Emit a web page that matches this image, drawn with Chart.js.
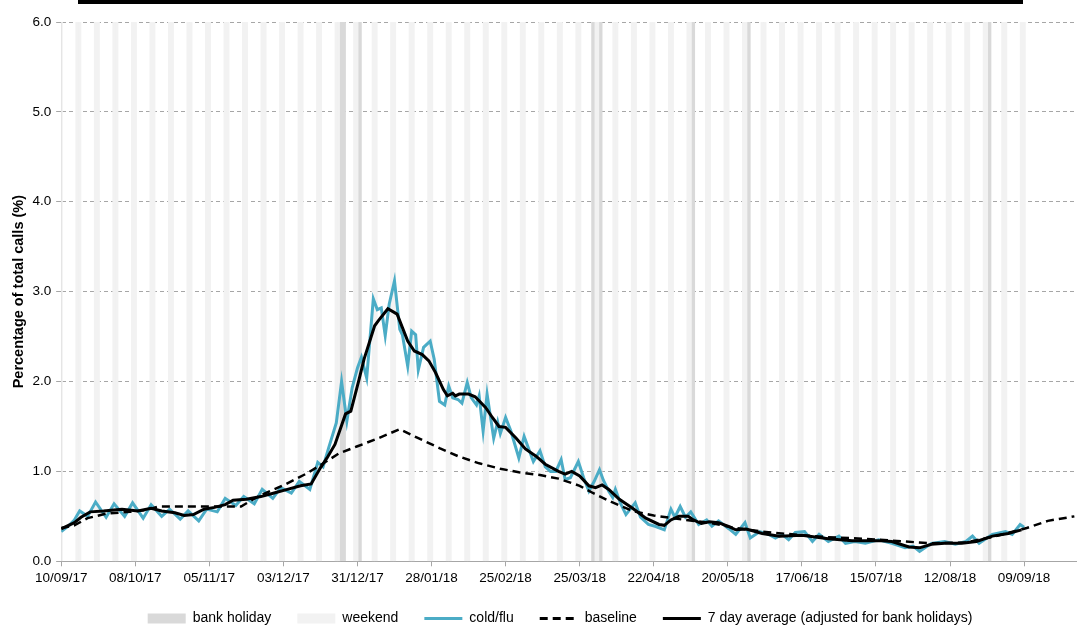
<!DOCTYPE html>
<html>
<head>
<meta charset="utf-8">
<script src="https://cdn.jsdelivr.net/npm/chart.js@4.4.1/dist/chart.umd.min.js"></script>
<style>
  html, body { margin: 0; padding: 0; background: #fff; }
</style>
</head>
<body>
<canvas id="callsChart" width="1077" height="626"></canvas>
<script>
// x values are days counted from 10/09/17
const tickLabels = ['10/09/17', '08/10/17', '05/11/17', '03/12/17', '31/12/17', '28/01/18', '25/02/18',
    '25/03/18', '22/04/18', '20/05/18', '17/06/18', '15/07/18', '12/08/18', '09/09/18'];
const bankHolidays = ['25/12/17', '26/12/17', '01/01/18', '30/03/18', '02/04/18', '07/05/18', '28/05/18', '27/08/18'];
const lastDay = '09/09/18';

const fluDays = [0, 3, 5, 7, 10, 13, 17, 20, 24, 27, 31, 34, 38, 41, 45, 48, 52, 55, 59, 62, 66, 69, 73, 76, 80, 83, 87, 90, 94,
    97, 99, 101, 104, 106, 108, 110, 112, 113.5, 115.5, 118, 119.5, 121, 122.5, 124, 126, 128, 129, 131, 132.5, 134, 135,
    137, 139.5, 141, 143, 145, 146.5, 148, 150, 151.5, 153.5, 155, 157, 158, 159.5, 161, 163.5, 165, 166, 168, 170, 173,
    175, 178.5, 181, 183, 185, 187, 189, 190.5, 192.5, 195.5, 197.5, 199.5, 201.5, 203.5, 205, 207, 208.5, 209.5, 211.5,
    213.5, 217, 219, 222, 224.5, 228, 230.5, 232, 234, 236, 238, 241, 244, 246, 248.5, 252.5, 255, 258.5, 260.5, 264,
    267.5, 270, 272.5, 275, 277.5, 281, 284, 286.5, 290, 294, 296.5, 300, 304, 309, 314, 319, 322, 324.5, 329, 334, 338,
    342, 344.5, 347, 352, 357, 359.5, 362.5, 364];
const fluPct = [0.33, 0.40, 0.46, 0.56, 0.50, 0.66, 0.49, 0.64, 0.50, 0.65, 0.48, 0.63, 0.50, 0.58, 0.47, 0.56, 0.45, 0.58,
    0.55, 0.70, 0.62, 0.72, 0.64, 0.80, 0.70, 0.82, 0.76, 0.89, 0.80,
    1.10, 1.05, 1.25, 1.54, 2.00, 1.56, 1.93, 2.15, 2.27, 2.04, 2.92, 2.80, 2.82, 2.51, 2.86, 3.12, 2.58, 2.52, 2.17, 2.56,
    2.52, 2.13, 2.38, 2.45, 2.25, 1.78, 1.74, 1.95, 1.82, 1.80, 1.76, 1.99, 1.82, 1.74, 1.84, 1.45, 1.86, 1.37, 1.55, 1.42,
    1.60, 1.45, 1.15, 1.39, 1.11, 1.23, 1.05, 1.00, 1.00, 1.13, 0.91, 0.93, 1.11, 0.93, 0.78, 0.89, 1.02, 0.90, 0.78, 0.71,
    0.80, 0.64, 0.52, 0.65, 0.49, 0.41, 0.39, 0.35, 0.58, 0.49, 0.61, 0.49, 0.55, 0.41, 0.46, 0.39, 0.45, 0.36, 0.30, 0.43,
    0.26, 0.33, 0.30, 0.26, 0.30, 0.24, 0.32, 0.33, 0.22, 0.30, 0.22, 0.28, 0.20, 0.22, 0.20, 0.24, 0.20, 0.15, 0.17, 0.11,
    0.20, 0.22, 0.19, 0.22, 0.28, 0.20, 0.30, 0.33, 0.30, 0.41, 0.38];

const avgDays = [0, 5, 7.5, 11, 16, 23, 29, 34, 38, 43, 46.5, 50, 54, 58, 62, 65, 70, 75.5, 80.5, 85.5, 90.5, 94.5, 98,
    100.5, 103.5, 107.5, 109.5, 112.5, 114.5, 118.5, 120, 123.5, 127, 129, 131, 133.5, 136.5, 139, 141.5, 144.5, 146, 148,
    149, 150.5, 154, 156.5, 160.5, 163, 165.5, 168, 172, 175.5, 179.5, 183, 188, 190.5, 193, 196, 199.5, 202, 204.5, 207,
    211, 216, 221, 226, 228, 230.5, 233.5, 237, 239, 242, 245, 248.5, 252, 255, 259, 265, 271.5, 280, 290, 299, 309, 314,
    320.5, 324.5, 329, 334, 340.5, 346, 352, 358, 363];
const avgPct = [0.36, 0.43, 0.49, 0.55, 0.56, 0.58, 0.56, 0.59, 0.56, 0.54, 0.51, 0.52, 0.58, 0.60, 0.63, 0.68, 0.69,
    0.72, 0.76, 0.80, 0.84, 0.86, 1.04, 1.15, 1.30, 1.64, 1.67, 2.01, 2.25, 2.62, 2.68, 2.81, 2.75, 2.60, 2.45, 2.34, 2.30,
    2.23, 2.10, 1.91, 1.84, 1.87, 1.84, 1.86, 1.86, 1.83, 1.71, 1.60, 1.50, 1.49, 1.37, 1.25, 1.17, 1.08, 1.00, 0.97, 1.00,
    0.95, 0.84, 0.82, 0.85, 0.80, 0.69, 0.59, 0.48, 0.41, 0.40, 0.46, 0.50, 0.50, 0.46, 0.42, 0.44, 0.43, 0.39, 0.35, 0.36,
    0.31, 0.28, 0.29, 0.25, 0.23, 0.23, 0.22, 0.16, 0.15, 0.19, 0.20, 0.20, 0.22, 0.28, 0.31, 0.35];

const baseDays = [0, 5, 10, 17, 26, 32, 37, 68, 75, 85, 93, 98, 105, 112, 120, 128, 135, 143, 150, 158, 166, 173, 181,
    188, 196, 201, 208, 216, 224, 231, 236, 245, 255, 265, 280, 289, 304, 319, 329, 342, 352, 365, 373, 383];
const basePct = [0.37, 0.40, 0.48, 0.53, 0.55, 0.57, 0.61, 0.61, 0.73, 0.86, 0.98, 1.07, 1.20, 1.28, 1.37, 1.47, 1.37,
    1.26, 1.17, 1.09, 1.03, 0.99, 0.96, 0.92, 0.84, 0.76, 0.66, 0.56, 0.51, 0.48, 0.46, 0.43, 0.37, 0.33, 0.29, 0.27, 0.25,
    0.22, 0.20, 0.21, 0.27, 0.37, 0.45, 0.50];

const START = Date.UTC(2017, 8, 10);
function dayOf(s) {
    const [d, m, y] = s.split('/').map(Number);
    return Math.round((Date.UTC(2000 + y, m - 1, d) - START) / 86400000);
}
function labelOf(day) {
    const t = new Date(START + day * 86400000);
    const p = n => String(n).padStart(2, '0');
    return p(t.getUTCDate()) + '/' + p(t.getUTCMonth() + 1) + '/' + p(t.getUTCFullYear() % 100);
}

// saturdays and sundays up to the last day of data
const weekendDays = [];
for (let d = 0; d <= dayOf(lastDay); d++) {
    const dow = new Date(START + d * 86400000).getUTCDay();
    if (dow === 0 || dow === 6) weekendDays.push(d);
}

const pairs = (xs, ys) => xs.map((x, i) => ({ x: x, y: ys[i] }));
const fullHeight = 6;

// black rule left over from the title box, plus a small nudge of the legend
const extras = {
    id: 'extras',
    afterLayout(chart) {
        chart.legend.left -= 9;
        chart.legend.right -= 9;
        chart.legend.top -= 5;
        chart.legend.bottom -= 5;
    },
    afterDraw(chart) {
        const c = chart.ctx;
        c.save();
        c.fillStyle = '#000';
        c.fillRect(78, 0, 945, 4);
        c.restore();
    }
};

const font = "'Liberation Sans', Arial, sans-serif";

new Chart(document.getElementById('callsChart'), {
    data: {
        datasets: [{
            type: 'bar',
            label: 'bank holiday',
            data: bankHolidays.map(s => ({ x: dayOf(s), y: fullHeight })),
            backgroundColor: '#d9d9d9',
            barPercentage: 1,
            categoryPercentage: 1,
            grouped: false,
            order: 4
        }, {
            type: 'bar',
            label: 'weekend',
            data: weekendDays.map(d => ({ x: d, y: fullHeight })),
            backgroundColor: '#f2f2f2',
            barPercentage: 1,
            categoryPercentage: 1,
            grouped: false,
            order: 5
        }, {
            type: 'line',
            label: 'cold/flu',
            data: pairs(fluDays, fluPct),
            borderColor: '#4bacc6',
            backgroundColor: '#4bacc6',
            borderWidth: 3,
            pointRadius: 0,
            order: 3
        }, {
            type: 'line',
            label: 'baseline',
            data: pairs(baseDays, basePct),
            borderColor: '#000',
            backgroundColor: '#000',
            borderWidth: 2.5,
            borderDash: [8, 5],
            pointRadius: 0,
            order: 2
        }, {
            type: 'line',
            label: '7 day average (adjusted for bank holidays)',
            data: pairs(avgDays, avgPct),
            borderColor: '#000',
            backgroundColor: '#000',
            borderWidth: 3,
            pointRadius: 0,
            order: 1
        }]
    },
    options: {
        responsive: false,
        animation: false,
        devicePixelRatio: 1,
        layout: { padding: { top: 22, right: 0, bottom: -14.5, left: 8 } },
        scales: {
            x: {
                type: 'linear',
                offset: false,
                min: 0,
                max: 384,
                afterBuildTicks: axis => {
                    axis.ticks = tickLabels.map(s => ({ value: dayOf(s) }));
                },
                ticks: {
                    callback: v => labelOf(v),
                    autoSkip: false,
                    maxRotation: 0,
                    color: '#000',
                    padding: 4,
                    font: { family: font, size: 13.5 }
                },
                grid: { drawOnChartArea: false, tickLength: 5, color: '#a6a6a6', offset: false },
                border: { color: '#a6a6a6' }
            },
            y: {
                min: 0,
                max: 6,
                ticks: {
                    stepSize: 1,
                    callback: v => v.toFixed(1),
                    color: '#000',
                    padding: 5,
                    font: { family: font, size: 13.5 }
                },
                grid: { color: '#a6a6a6', tickLength: 5, tickBorderDash: [] },
                border: { color: '#a6a6a6', dash: [4, 3] },
                title: {
                    display: true,
                    text: 'Percentage of total calls (%)',
                    color: '#000',
                    font: { family: font, size: 14.5, weight: 'bold' },
                    padding: { top: 2, bottom: 0 }
                }
            }
        },
        plugins: {
            tooltip: { enabled: false },
            legend: {
                position: 'bottom',
                fullSize: false,
                labels: {
                    usePointStyle: true,
                    pointStyleWidth: 38,
                    boxHeight: 10,
                    padding: 26,
                    color: '#000',
                    font: { family: font, size: 14 },
                    generateLabels: chart => chart.data.datasets.map((ds, i) => ({
                        text: ds.label,
                        datasetIndex: i,
                        fillStyle: ds.backgroundColor,
                        strokeStyle: ds.type === 'bar' ? ds.backgroundColor : ds.borderColor,
                        lineWidth: ds.type === 'bar' ? 0 : 3,
                        lineDash: ds.borderDash || [],
                        pointStyle: ds.type === 'bar' ? 'rect' : 'line',
                        hidden: false
                    }))
                }
            }
        }
    },
    plugins: [extras]
});
</script>
</body>
</html>
